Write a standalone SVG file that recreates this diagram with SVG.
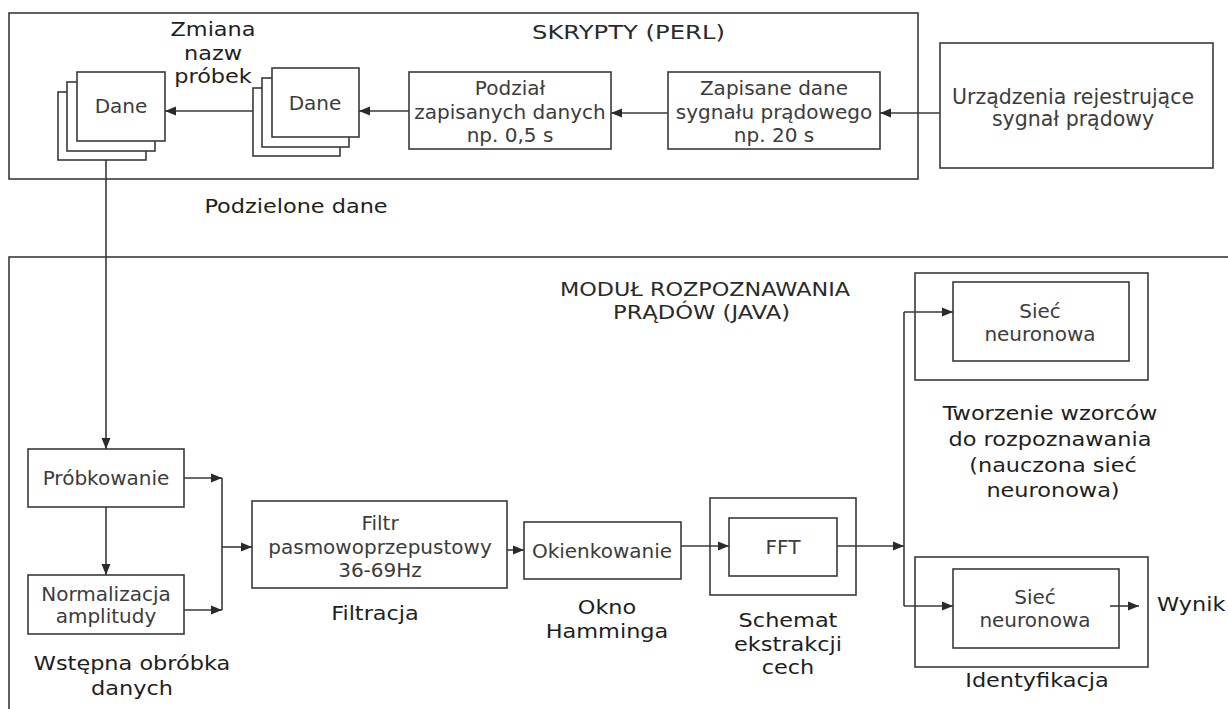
<svg xmlns="http://www.w3.org/2000/svg" width="1228" height="709" viewBox="0 0 1228 709">
<style>
  .box { fill: #fff; stroke: #3a3a3a; stroke-width: 1.6; }
  .frame { fill: none; stroke: #3a3a3a; stroke-width: 1.6; }
  .t { font-family: "DejaVu Sans", Verdana, sans-serif; font-size: 20px; fill: #3c3c3c; text-anchor: middle; }
  .lbl { font-family: "DejaVu Sans", Verdana, sans-serif; font-size: 20px; fill: #1e1e1e; text-anchor: middle; }
  .hd { font-family: "DejaVu Sans", Verdana, sans-serif; font-size: 19px; fill: #2a2a2a; }
  .c { fill: none; stroke: #3a3a3a; stroke-width: 1.6; }
  .a { marker-end: url(#arr); }
</style>
<defs>
  <marker id="arr" markerUnits="userSpaceOnUse" markerWidth="12" markerHeight="10" refX="11" refY="5" orient="auto">
    <path d="M0,0.5 L11,5 L0,9.5 z" fill="#2a2a2a"/>
  </marker>
</defs>
<rect width="1228" height="709" fill="#fff"/>

<g id="skrypty">
  <rect class="frame" x="9" y="13" width="909" height="166"/>
  <text class="hd" x="532" y="39" textLength="193" lengthAdjust="spacingAndGlyphs" style="font-size:20px">SKRYPTY (PERL)</text>
</g>

<g id="modul">
  <rect class="frame" x="9" y="257" width="1240" height="470"/>
  <text class="hd" x="560" y="296" textLength="290" lengthAdjust="spacingAndGlyphs">MODUŁ ROZPOZNAWANIA</text>
  <text class="hd" x="613" y="318.5" textLength="177" lengthAdjust="spacingAndGlyphs">PRĄDÓW (JAVA)</text>
</g>

<g id="dane1">
  <rect class="box" x="58" y="92" width="88" height="68"/>
  <rect class="box" x="67" y="82" width="88" height="69"/>
  <rect class="box" x="77" y="72" width="88" height="69"/>
  <text class="t" x="121" y="113">Dane</text>
</g>

<g id="zmiana-label">
  <text class="lbl" transform="translate(213 36) scale(1.12 1)">Zmiana</text>
  <text class="lbl" transform="translate(213 59.5) scale(1.12 1)">nazw</text>
  <text class="lbl" transform="translate(213 83) scale(1.12 1)">próbek</text>
</g>

<g id="dane2">
  <rect class="box" x="253" y="88" width="87" height="68"/>
  <rect class="box" x="262" y="78" width="87" height="69"/>
  <rect class="box" x="272" y="68" width="87" height="69"/>
  <text class="t" x="315" y="110">Dane</text>
</g>

<g id="podzial">
  <rect class="box" x="409" y="72" width="202" height="77"/>
  <text class="t" x="510" y="95">Podział</text>
  <text class="t" x="510" y="119">zapisanych danych</text>
  <text class="t" x="510" y="142">np. 0,5 s</text>
</g>

<g id="zapisane">
  <rect class="box" x="668" y="72" width="212" height="77"/>
  <text class="t" x="774" y="95">Zapisane dane</text>
  <text class="t" x="774" y="119">sygnału prądowego</text>
  <text class="t" x="774" y="142">np. 20 s</text>
</g>

<g id="urzadzenia">
  <rect class="box" x="940" y="43" width="273" height="125"/>
  <text class="t" x="1073" y="104" style="font-size:20.5px">Urządzenia rejestrujące</text>
  <text class="t" x="1073" y="126" style="font-size:20.5px">sygnał prądowy</text>
</g>

<g id="podzielone-label">
  <text class="lbl" transform="translate(296 213) scale(1.12 1)">Podzielone dane</text>
</g>

<g id="probkowanie">
  <rect class="box" x="28" y="449" width="156" height="58"/>
  <text class="t" x="106" y="485">Próbkowanie</text>
</g>

<g id="normalizacja">
  <rect class="box" x="28" y="575" width="156" height="59"/>
  <text class="t" x="106" y="601">Normalizacja</text>
  <text class="t" x="106" y="623">amplitudy</text>
</g>

<g id="wstepna-label">
  <text class="lbl" transform="translate(132 670) scale(1.12 1)">Wstępna obróbka</text>
  <text class="lbl" transform="translate(132 695) scale(1.12 1)">danych</text>
</g>

<g id="filtr">
  <rect class="box" x="252" y="501" width="255" height="87"/>
  <text class="t" x="380" y="530">Filtr</text>
  <text class="t" x="380" y="554">pasmowoprzepustowy</text>
  <text class="t" x="380" y="577">36-69Hz</text>
  <text class="lbl" transform="translate(375 620) scale(1.12 1)">Filtracja</text>
</g>

<g id="okienkowanie">
  <rect class="box" x="524" y="522" width="157" height="57"/>
  <text class="t" x="602" y="558">Okienkowanie</text>
  <text class="lbl" transform="translate(607 614) scale(1.12 1)">Okno</text>
  <text class="lbl" transform="translate(607 637.5) scale(1.12 1)">Hamminga</text>
</g>

<g id="fft">
  <rect class="box" x="710" y="498" width="146" height="97"/>
  <rect class="box" x="729" y="518" width="108" height="58"/>
  <text class="t" x="783" y="554">FFT</text>
  <text class="lbl" transform="translate(788 627) scale(1.12 1)">Schemat</text>
  <text class="lbl" transform="translate(788 650.5) scale(1.12 1)">ekstrakcji</text>
  <text class="lbl" transform="translate(788 674) scale(1.12 1)">cech</text>
</g>

<g id="siec-wzorce">
  <rect class="box" x="915" y="273" width="233" height="107"/>
  <rect class="box" x="953" y="282" width="176" height="79"/>
  <text class="t" x="1040" y="318">Sieć</text>
  <text class="t" x="1040" y="341">neuronowa</text>
  <text class="lbl" transform="translate(1050 420) scale(1.12 1)">Tworzenie wzorców</text>
  <text class="lbl" transform="translate(1050 446) scale(1.12 1)">do rozpoznawania</text>
  <text class="lbl" transform="translate(1053 472) scale(1.12 1)">(nauczona sieć</text>
  <text class="lbl" transform="translate(1053 497) scale(1.12 1)">neuronowa)</text>
</g>

<g id="siec-identyfikacja">
  <rect class="box" x="915" y="557" width="233" height="110"/>
  <rect class="box" x="953" y="569" width="166" height="79"/>
  <text class="t" x="1035" y="604">Sieć</text>
  <text class="t" x="1035" y="627">neuronowa</text>
  <text class="lbl" transform="translate(1037 687) scale(1.12 1)">Identyfikacja</text>
</g>

<g id="wynik">
  <text class="lbl" transform="translate(1157 611) scale(1.12 1)" style="text-anchor:start">Wynik</text>
</g>

<g id="connectors">
  <line class="c a" x1="940" y1="113" x2="880" y2="113"/>
  <line class="c a" x1="668" y1="113" x2="611" y2="113"/>
  <line class="c a" x1="409" y1="111" x2="359" y2="111"/>
  <line class="c a" x1="253" y1="111" x2="165" y2="111"/>
  <line class="c a" x1="106" y1="160" x2="106" y2="449"/>
  <line class="c a" x1="106" y1="507" x2="106" y2="575"/>
  <line class="c a" x1="184" y1="478" x2="222" y2="478"/>
  <line class="c a" x1="184" y1="610" x2="222" y2="610"/>
  <line class="c" x1="222" y1="478" x2="222" y2="610"/>
  <line class="c a" x1="222" y1="547" x2="252" y2="547"/>
  <line class="c a" x1="507" y1="550" x2="524" y2="550"/>
  <line class="c a" x1="681" y1="546" x2="729" y2="546"/>
  <line class="c a" x1="837" y1="546" x2="904" y2="546"/>
  <line class="c" x1="904" y1="312" x2="904" y2="606"/>
  <line class="c a" x1="904" y1="312" x2="953" y2="312"/>
  <line class="c a" x1="904" y1="606" x2="953" y2="606"/>
  <line class="c a" x1="1110" y1="606" x2="1139" y2="606"/>
</g>
</svg>
